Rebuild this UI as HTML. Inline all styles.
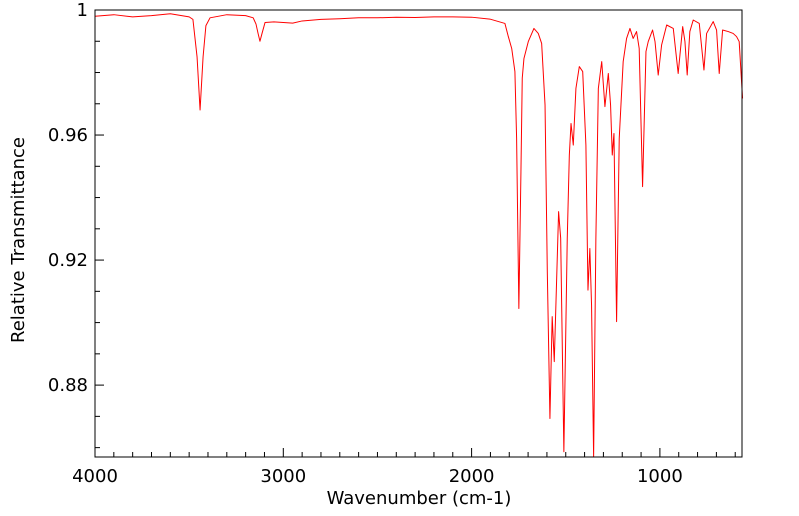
<!DOCTYPE html>
<html><head><meta charset="utf-8"><style>
body{margin:0;background:#fff}
svg{display:block;font-family:"DejaVu Sans","Liberation Sans",sans-serif}
</style></head><body>
<svg id="chart" width="799" height="516" viewBox="0 0 799 516">
<g id="axes"></g>
<path id="line" fill="none" stroke="#ff0000" stroke-width="1" stroke-linejoin="round"/>
<rect x="95" y="10" width="647" height="447" fill="none" stroke="#000" stroke-width="1"/>
<text x="419" y="504" text-anchor="middle" font-size="18">Wavenumber (cm-1)</text>
<text transform="translate(24,240) rotate(-90)" text-anchor="middle" font-size="18">Relative Transmittance</text>
</svg>
<script>
const wavenumbers=[4000,3900,3800,3700,3600,3500,3480,3458,3442,3426,3411,3389,3300,3200,3160,3145,3134,3124,3113,3097,3050,2950,2900,2800,2700,2600,2500,2400,2300,2200,2100,2000,1903,1823,1805,1787,1770,1761,1749,1738,1731,1722,1699,1669,1646,1628,1610,1598,1584,1572,1561,1538,1527,1510,1492,1481,1472,1460,1446,1428,1410,1393,1382,1372,1363,1352,1340,1327,1309,1292,1274,1262,1253,1244,1230,1216,1195,1177,1159,1142,1124,1110,1092,1074,1062,1039,1026,1009,991,964,929,903,879,867,855,841,823,791,766,752,717,699,685,667,637,611,593,579,561];
const transmittance=[0.9980,0.9985,0.9978,0.9982,0.9988,0.9978,0.9970,0.9850,0.9680,0.9850,0.9950,0.9975,0.9985,0.9982,0.9975,0.9955,0.9925,0.9900,0.9925,0.9960,0.9962,0.9958,0.9965,0.9970,0.9972,0.9975,0.9975,0.9977,0.9976,0.9978,0.9978,0.9977,0.9971,0.9957,0.9915,0.9877,0.9803,0.9590,0.9045,0.9482,0.9782,0.9845,0.9899,0.9941,0.9925,0.9893,0.9696,0.9163,0.8693,0.9019,0.8875,0.9355,0.9270,0.8587,0.9270,0.9536,0.9637,0.9568,0.9749,0.9819,0.9803,0.9568,0.9104,0.9237,0.9056,0.8570,0.9270,0.9749,0.9835,0.9691,0.9797,0.9696,0.9536,0.9605,0.9003,0.9589,0.9835,0.9909,0.9941,0.9909,0.9931,0.9877,0.9435,0.9867,0.9899,0.9936,0.9899,0.9792,0.9888,0.9952,0.9941,0.9797,0.9947,0.9899,0.9792,0.9931,0.9968,0.9957,0.9808,0.9925,0.9963,0.9936,0.9797,0.9936,0.9931,0.9925,0.9915,0.9899,0.9717];
const xTickLabels=[4000,3000,2000,1000];
const yTickLabels=[1,0.96,0.92,0.88];
const X0=95,X1=742,Y0=10,Y1=457,WMAX=4000,WMIN=564,TMAX=1,TMIN=0.857;
const xs=w=>X0+(WMAX-w)/(WMAX-WMIN)*(X1-X0);
const ys=t=>Y0+(TMAX-t)/(TMAX-TMIN)*(Y1-Y0);
const NS="http://www.w3.org/2000/svg";
const axes=document.getElementById('axes');
function ln(x1,y1,x2,y2,name){const l=document.createElementNS(NS,'line');
l.setAttribute('x1',x1);l.setAttribute('y1',y1);l.setAttribute('x2',x2);l.setAttribute('y2',y2);
l.setAttribute('stroke','#000');l.setAttribute('stroke-width','1');


axes.appendChild(l);}
for(let w=4000;w>=WMIN;w-=100){const x=xs(w);const major=w%1000===0;ln(x,Y1,x,Y1-(major?9:5),major?'x-major-tick':'x-minor-tick');}
for(let t=1;t>=TMIN-1e-9;t-=0.01){const y=ys(t);const major=Math.round(t*100)%4===0;ln(X0,y,X0+(major?9:5),y,major?'y-major-tick':'y-minor-tick');}
xTickLabels.forEach(v=>{const t=document.createElementNS(NS,'text');
t.setAttribute('x',xs(v));t.setAttribute('y',482);t.setAttribute('text-anchor','middle');t.setAttribute('font-size','18');t.textContent=v;


axes.appendChild(t);});
yTickLabels.forEach(v=>{const t=document.createElementNS(NS,'text');
t.setAttribute('x',88);t.setAttribute('y',ys(v)+6);t.setAttribute('text-anchor','end');t.setAttribute('font-size','18');t.textContent=String(v);


axes.appendChild(t);});
let d='';wavenumbers.forEach((w,i)=>{d+=(i?'L':'M')+xs(w).toFixed(2)+','+ys(transmittance[i]).toFixed(2);});
document.getElementById('line').setAttribute('d',d);
</script>
</body></html>
